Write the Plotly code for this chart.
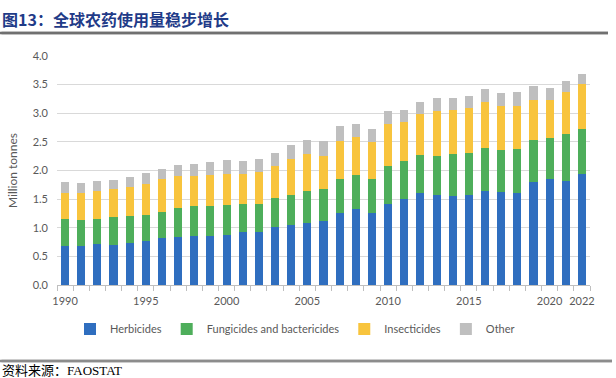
import plotly.graph_objects as go

years = [1990, 1991, 1992, 1993, 1994, 1995, 1996, 1997, 1998, 1999, 2000,
         2001, 2002, 2003, 2004, 2005, 2006, 2007, 2008, 2009, 2010,
         2011, 2012, 2013, 2014, 2015, 2016, 2017, 2018, 2019, 2020, 2021, 2022]

herbicides = [0.69, 0.69, 0.71, 0.70, 0.74, 0.76, 0.82, 0.83, 0.85, 0.86, 0.87,
              0.92, 0.92, 1.01, 1.04, 1.08, 1.12, 1.26, 1.32, 1.25, 1.42,
              1.50, 1.60, 1.58, 1.56, 1.58, 1.64, 1.62, 1.61, 1.80, 1.86, 1.81, 1.94]
fungicides = [0.46, 0.44, 0.45, 0.48, 0.47, 0.47, 0.46, 0.51, 0.53, 0.52, 0.53,
              0.50, 0.50, 0.51, 0.54, 0.57, 0.55, 0.59, 0.60, 0.60, 0.66,
              0.66, 0.67, 0.68, 0.73, 0.73, 0.75, 0.73, 0.76, 0.73, 0.71, 0.83, 0.79]
insecticides = [0.46, 0.48, 0.48, 0.49, 0.50, 0.54, 0.57, 0.56, 0.53, 0.54, 0.54,
                0.52, 0.55, 0.55, 0.62, 0.63, 0.59, 0.66, 0.67, 0.65, 0.74,
                0.69, 0.71, 0.78, 0.77, 0.78, 0.81, 0.77, 0.76, 0.71, 0.66, 0.74, 0.78]
other = [0.19, 0.18, 0.18, 0.16, 0.18, 0.18, 0.17, 0.19, 0.21, 0.23, 0.24,
         0.23, 0.23, 0.24, 0.25, 0.25, 0.25, 0.26, 0.23, 0.22, 0.22,
         0.20, 0.22, 0.22, 0.21, 0.22, 0.23, 0.24, 0.25, 0.24, 0.21, 0.18, 0.18]

tick_years = [1990, 1995, 2000, 2005, 2010, 2015, 2020, 2022]
tick_labels = ["1990", "1995", "2000", "2005", "2010", "2015", "2020", "2022"]
y_ticks = [0.0, 0.5, 1.0, 1.5, 2.0, 2.5, 3.0, 3.5, 4.0]

series = [
    ("Herbicides", herbicides, "#2F6EBF"),
    ("Fungicides and bactericides", fungicides, "#4EAE5B"),
    ("Insecticides", insecticides, "#F8C43D"),
    ("Other", other, "#BFBFBF"),
]

W, H = 616, 378
PLOT_L, PLOT_R, PLOT_T, PLOT_B = 57, 590, 56, 285


def fx(px):
    return px / W


def fy(py):
    return 1 - py / H


fig = go.Figure()
for name, vals, color in series:
    fig.add_trace(go.Bar(x=years, y=vals, name=name, marker_color=color,
                         marker_line_width=0))

font_main = "Lato, 'Liberation Sans', sans-serif"

fig.update_layout(
    width=W, height=H,
    margin=dict(l=0, r=0, t=0, b=0, pad=0),
    barmode="stack", bargap=0.5,
    plot_bgcolor="white", paper_bgcolor="white",
    font=dict(family=font_main, color="#595959", size=11),
    showlegend=True,
    legend=dict(orientation="h", x=fx(295), xanchor="center", y=fy(329), yanchor="middle",
                font=dict(size=11, color="#595959"), traceorder="normal",
                bgcolor="rgba(0,0,0,0)"),
    xaxis=dict(domain=[fx(PLOT_L), fx(PLOT_R)],
               range=[years[0] - 0.5, years[-1] + 0.5], tickmode="array",
               tickvals=tick_years, ticktext=tick_labels, ticks="",
               showline=True, linecolor="#BFBFBF", linewidth=1, showgrid=False,
               zeroline=False, tickfont=dict(size=11, color="#595959"),
               ticklabelstandoff=6, automargin=False,
               minor=dict(ticks="outside", ticklen=5, tickcolor="#BFBFBF",
                          tickwidth=1, tick0=years[0] - 0.5, dtick=1, showgrid=False)),
    yaxis=dict(domain=[fy(PLOT_B), fy(PLOT_T)],
               range=[0, 4], tickmode="array", tickvals=y_ticks, tickformat=".1f",
               showgrid=True, gridcolor="#D9D9D9", gridwidth=1, zeroline=False,
               showline=False, ticks="", ticklabelstandoff=8, automargin=False,
               tickfont=dict(size=11, color="#595959"),
               title=dict(text="Million tonnes", font=dict(size=12, color="#595959"),
                          standoff=12)),
)

fig.add_annotation(text="图13：全球农药使用量稳步增长", xref="paper", yref="paper",
                   x=fx(0), y=fy(19), xanchor="left", yanchor="middle",
                   showarrow=False,
                   font=dict(family="'Noto Sans CJK SC', sans-serif", size=16,
                             color="#1F3B88", weight="bold"))
fig.add_annotation(text="资料来源：FAOSTAT", xref="paper", yref="paper",
                   x=fx(0), y=fy(370), xanchor="left", yanchor="middle",
                   showarrow=False,
                   font=dict(family="'Liberation Serif', 'Noto Sans CJK SC', serif",
                             size=13, color="#000000"))

# separator rules (title rule and source rule)
for y_px, x_end, col in [(33, 608, "#707070"), (361, 612, "#8C8C8C")]:
    fig.add_shape(type="line", xref="paper", yref="paper", layer="above",
                  x0=fx(0), x1=fx(x_end), y0=fy(y_px), y1=fy(y_px),
                  line=dict(color=col, width=2.5))
    fig.add_annotation(text="", xref="paper", yref="paper", x=fx(x_end), y=fy(y_px),
                       showarrow=True, arrowhead=0, arrowwidth=2.5, arrowcolor=col,
                       ax=-x_end, ay=0, axref="pixel", ayref="pixel",
                       standoff=0, startstandoff=0)

fig.write_html("out.html", config={"displayModeBar": False},
               post_script="document.body.style.margin='0';")
